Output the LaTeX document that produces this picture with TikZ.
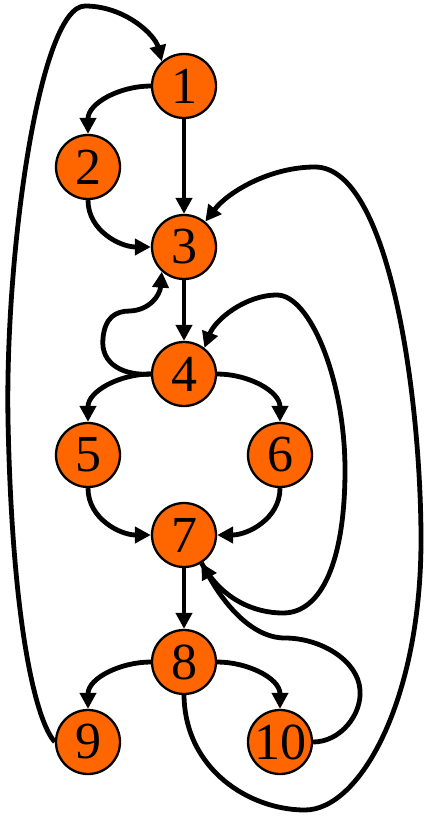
\documentclass[tikz,border=0pt]{standalone}
\usepackage{fontspec}
\setmainfont{Liberation Serif}
\usetikzlibrary{arrows.meta}
\definecolor{nodeorange}{RGB}{255,102,0}
\pgfdeclarelayer{edges}
\pgfsetlayers{edges,main}
\begin{document}
\begin{tikzpicture}[x=1pt,y=-1pt,
  vertex/.style={circle,draw=black,line width=2.3pt,fill=nodeorange,
    minimum size=64pt,inner sep=0pt,font=\fontsize{52}{52}\selectfont},
  flow/.style={line width=4.8pt,-{Triangle[length=16pt,width=16pt]}}]
\useasboundingbox (0,0) rectangle (425,819);

% control-flow vertices
\node[vertex] (1)  at (184,86)  {1};
\node[vertex] (2)  at (88,167)  {2};
\node[vertex] (3)  at (184,247) {3};
\node[vertex] (4)  at (184,374) {4};
\node[vertex] (5)  at (88,455)  {5};
\node[vertex] (6)  at (280,455) {6};
\node[vertex] (7)  at (184,535) {7};
\node[vertex] (8)  at (184,662) {8};
\node[vertex] (9)  at (88,742)  {9};
\node[vertex] (10) at (280,742) {10};

\begin{pgfonlayer}{edges}
% forward edges
\draw[flow] (1.west) to[out=180,in=90] (2.north);
\draw[flow] (1) -- (3);
\draw[flow] (2.south) to[out=-90,in=180] (3.west);
\draw[flow] (3) -- (4);
\draw[flow] (4.west) to[out=180,in=90] (5.north);
\draw[flow] (4.east) to[out=0,in=90] (6.north);
\draw[flow] (5.south) to[out=-90,in=180] (7.west);
\draw[flow] (6.south) to[out=-90,in=0] (7.east);
\draw[flow] (7) -- (8);
\draw[flow] (8.west) to[out=180,in=90] (9.north);
\draw[flow] (8.east) to[out=0,in=90] (10.north);

% back edges
\draw[flow] (9.west) .. controls (35,720) and (12,620) .. (8,420)
  .. controls (5,250) and (40,6) .. (85,6)
  .. controls (125,6) and (155,35) .. (1.132);
\draw[flow] (4.west) .. controls (125,376) and (100,365) .. (103,338)
  .. controls (105,318) and (115,311) .. (130,311)
  .. controls (150,310) and (160,295) .. (3.228);
\draw[flow] (7.-58) .. controls (222,600) and (255,613) .. (283,613)
  .. controls (322,613) and (345,560) .. (345,470)
  .. controls (345,380) and (310,295) .. (277,295)
  .. controls (245,295) and (215,320) .. (4.52);
\draw[flow] (10.east) .. controls (340,742) and (362,715) .. (360,690)
  .. controls (358,660) and (320,638) .. (285,638)
  .. controls (250,638) and (222,600) .. (7.-58);
\draw[flow] (8.south) .. controls (185,770) and (250,810) .. (305,810)
  .. controls (360,810) and (421,700) .. (421,540)
  .. controls (421,400) and (390,167) .. (315,167)
  .. controls (270,167) and (228,192) .. (3.50);
\end{pgfonlayer}
\end{tikzpicture}
\end{document}
